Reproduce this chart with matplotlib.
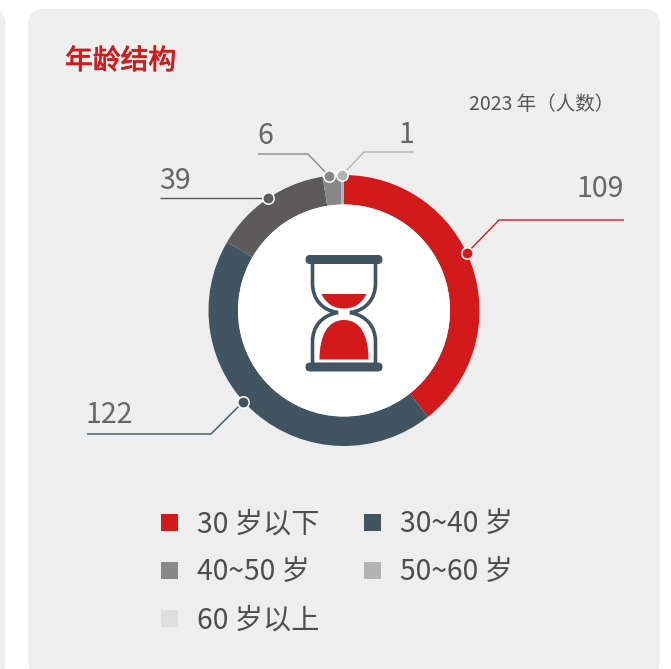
import matplotlib
matplotlib.use("Agg")
import matplotlib.pyplot as plt
import matplotlib.patheffects as pe
from matplotlib.patches import FancyBboxPatch, Rectangle, Circle, PathPatch
from matplotlib.path import Path

plt.rcParams['font.family'] = ['Noto Sans CJK SC', 'DejaVu Sans']

W, H = 671, 669

# data
ages = ['30 岁以下', '30~40 岁', '40~50 岁', '50~60 岁', '60 岁以上']
legend_colors = ['#D31A1A', '#405462', '#888888', '#B3B3B3', '#DDDFDE']
counts = [109, 122, 39, 6, 1]
slice_colors = ['#D31A1A', '#405462', '#5C5A5A', '#888888', '#B3B3B3']
count_labels = ['109', '122', '39', '6', '1']

text_grey = '#666666'
card = '#EEEEEE'
red = '#D31A1A'
navy = '#405462'


def fy(y):
    # picture y (from the top) to axes y
    return H - y


fig = plt.figure(figsize=(W / 100, H / 100), dpi=100)
ax = fig.add_axes([0, 0, 1, 1])

# ring
cx, cy, r_out, r_in = 344, 310.5, 135.5, 106
wedges, _ = ax.pie(counts, colors=slice_colors, startangle=90, counterclock=False,
                   center=(cx, fy(cy)), radius=r_out,
                   wedgeprops=dict(width=r_out - r_in, linewidth=0))
for w in wedges:
    w.set_zorder(3)

ax.set_xlim(0, W)
ax.set_ylim(0, H)
ax.set_aspect('auto')
ax.axis('off')

# cards behind everything
ax.add_patch(FancyBboxPatch((-30, fy(676)), 35.5, 667, boxstyle='round,pad=0,rounding_size=15',
                            fc=card, ec='none', zorder=1))
ax.add_patch(FancyBboxPatch((28, fy(676)), 632, 667, boxstyle='round,pad=0,rounding_size=16',
                            fc=card, ec='none', zorder=1))
ax.add_patch(Circle((cx, fy(cy)), r_in, fc='white', ec='none', zorder=4))

# leader lines: dot on the ring, elbow, end
leaders = [
    ([(467, 253), (499, 220), (624, 220)], slice_colors[0], (623.5, 189), 'right'),
    ([(243, 402), (211, 434), (87, 434)], slice_colors[1], (86, 415), 'left'),
    ([(268, 198), (160, 198)], slice_colors[2], (159, 181), 'left'),
    ([(329, 176), (308, 154), (258, 154)], slice_colors[3], (257, 136), 'left'),
    ([(342, 175), (364, 152), (414, 152)], slice_colors[4], (414, 135), 'right'),
]
for lab, (pts, col, tpos, ha) in zip(count_labels, leaders):
    xs = [p[0] for p in pts]
    ys = [fy(p[1]) for p in pts]
    ax.plot(xs, ys, color=col, lw=1.0, zorder=5, solid_capstyle='butt')
    ax.plot(xs[0], ys[0], 'o', ms=8.2, mfc=col, mec='white', mew=1.1, zorder=6)
    ax.text(tpos[0], fy(tpos[1]), lab, ha=ha, va='center', fontsize=20.5,
            color=text_grey, fontweight='light', zorder=6)

# hourglass
for y0 in (255, 362.5):
    ax.add_patch(FancyBboxPatch((310, fy(y0 + 9) + 4.5), 68, 0.01,
                                boxstyle='round,pad=4.5,rounding_size=4.5',
                                fc=navy, ec='none', zorder=6))

glass_xy = [(312.5, 263), (312.5, 283), (312.5, 299), (322, 310.5), (338, 312.5),
            (322, 315.5), (312.5, 326), (312.5, 342), (312.5, 363),
            (375.5, 363), (375.5, 342), (375.5, 326), (366, 315.5), (350, 312.5),
            (366, 310.5), (375.5, 299), (375.5, 283), (375.5, 263)]
glass = Path([(x, fy(y)) for x, y in glass_xy],
             [Path.MOVETO, Path.LINETO, Path.CURVE4, Path.CURVE4, Path.CURVE4,
              Path.CURVE4, Path.CURVE4, Path.CURVE4, Path.LINETO,
              Path.MOVETO, Path.LINETO, Path.CURVE4, Path.CURVE4, Path.CURVE4,
              Path.CURVE4, Path.CURVE4, Path.CURVE4, Path.LINETO])
ax.add_patch(PathPatch(glass, fc='none', ec=navy, lw=2.6, zorder=5))

top_xy = [(321.5, 294), (366.5, 294), (362, 303), (355, 308.5), (344, 308.5),
          (333, 308.5), (326, 303), (321.5, 294), (321.5, 294)]
top_sand = Path([(x, fy(y)) for x, y in top_xy],
                [Path.MOVETO, Path.LINETO, Path.CURVE4, Path.CURVE4, Path.CURVE4,
                 Path.CURVE4, Path.CURVE4, Path.CURVE4, Path.CLOSEPOLY])
ax.add_patch(PathPatch(top_sand, fc=red, ec='none', zorder=5))

low_xy = [(319.5, 359.5), (319.5, 335), (328, 320), (344, 320),
          (360, 320), (368.5, 335), (368.5, 359.5), (319.5, 359.5)]
low_sand = Path([(x, fy(y)) for x, y in low_xy],
                [Path.MOVETO, Path.CURVE4, Path.CURVE4, Path.CURVE4,
                 Path.CURVE4, Path.CURVE4, Path.CURVE4, Path.CLOSEPOLY])
ax.add_patch(PathPatch(low_sand, fc=red, ec='none', zorder=5))

# titles
title = ax.text(65, fy(61), '年龄结构', ha='left', va='center', fontsize=20,
                color=red, zorder=6)
title.set_path_effects([pe.withStroke(linewidth=0.6, foreground=red)])
ax.text(469, fy(105), '2023 年（人数）', ha='left', va='center', fontsize=14,
        color='#555555', zorder=6)

# legend
legend_x = [161, 364, 161, 364, 161]
legend_y = [522.5, 522.5, 570.5, 570.5, 618.5]
for name, col, lx, ly in zip(ages, legend_colors, legend_x, legend_y):
    ax.add_patch(Rectangle((lx, fy(ly + 8.5)), 17, 17, fc=col, ec='none', zorder=6))
    ax.text(lx + 36, fy(ly + 2), name, ha='left', va='center', fontsize=20.3,
            color='#4D4D4D', fontweight='light', zorder=6)

fig.savefig('out.png', dpi=100, facecolor='white')
